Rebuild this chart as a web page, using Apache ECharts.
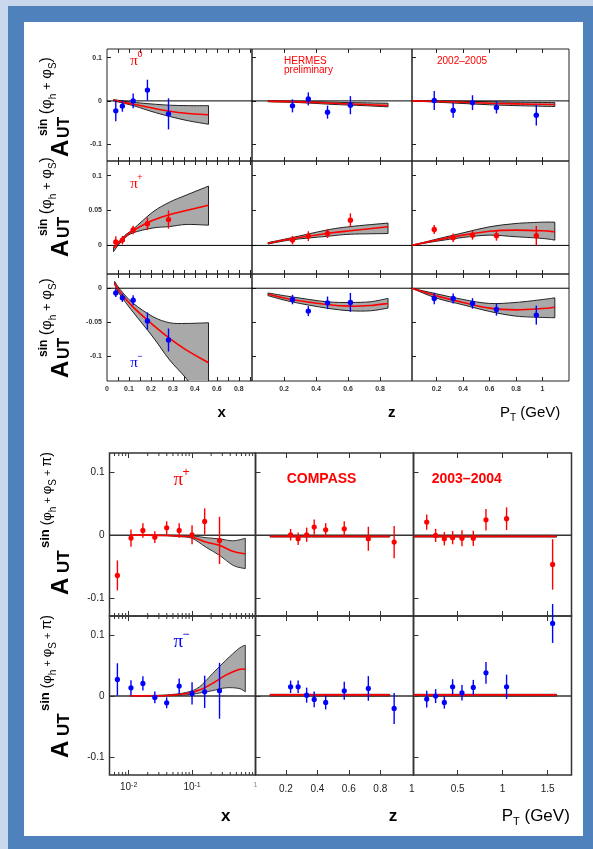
<!DOCTYPE html>
<html><head><meta charset="utf-8">
<script src="https://cdn.jsdelivr.net/npm/echarts@6/dist/echarts.min.js"></script>
<style>html,body{margin:0;padding:0;background:#c8d7ec}#c{width:593px;height:849px}</style>
</head><body><div id="c"></div>
<script>
// ================= HERMES 2002-2005 =================
const hX  = [0.04, 0.07, 0.119, 0.184, 0.28];
const hZ  = [0.253, 0.352, 0.472, 0.615];
const hPT = [0.182, 0.325, 0.471, 0.652, 0.953];
// pi0
const pi0X_y = [-0.023, -0.012, 0.0, 0.025, -0.030];
const pi0X_e = [0.024, 0.013, 0.017, 0.024, 0.036];
const pi0Z_y = [-0.0115, 0.0046, -0.026, -0.010];
const pi0Z_e = [0.015, 0.015, 0.015, 0.021];
const pi0P_y = [0.001, -0.022, -0.004, -0.015, -0.033];
const pi0P_e = [0.022, 0.017, 0.017, 0.014, 0.024];
// pi+
const pipX_y = [0.005, 0.0076, 0.022, 0.031, 0.037];
const pipX_e = [0.008, 0.006, 0.006, 0.009, 0.013];
const pipZ_y = [0.0076, 0.0133, 0.017, 0.036];
const pipZ_e = [0.006, 0.007, 0.0064, 0.010];
const pipP_y = [0.0229, 0.011, 0.0147, 0.0138, 0.0138];
const pipP_e = [0.0064, 0.006, 0.0065, 0.007, 0.014];
// pi-
const pimX_y = [-0.0069, -0.0142, -0.0176, -0.0485, -0.0765];
const pimX_e = [0.006, 0.006, 0.0074, 0.0128, 0.017];
const pimZ_y = [-0.0167, -0.0338, -0.0216, -0.021];
const pimZ_e = [0.007, 0.0074, 0.0093, 0.014];
const pimP_y = [-0.0152, -0.0152, -0.0225, -0.0314, -0.0397];
const pimP_e = [0.0086, 0.0074, 0.0078, 0.009, 0.014];
// model bands (HERMES)
const b_pi0X_x = [0.03, 0.08, 0.133, 0.2, 0.285, 0.37, 0.462];
const b_pi0X_m = [0.002, -0.004, -0.009, -0.016, -0.024, -0.029, -0.032];
const b_pi0X_h = [0.003, -0.001, -0.004, -0.007, -0.010, -0.011, -0.011];
const b_pi0X_l = [0.0, -0.006, -0.013, -0.024, -0.036, -0.046, -0.054];
const b_pi0Z_x = [0.1, 0.3, 0.5, 0.7, 0.85];
const b_pi0Z_m = [-0.001, -0.0023, -0.0054, -0.0085, -0.011];
const b_pi0Z_h = [0.0, -0.001, -0.003, -0.0045, -0.0054];
const b_pi0Z_l = [-0.002, -0.004, -0.008, -0.011, -0.0138];
const b_pi0P_x = [0.011, 0.2, 0.4, 0.6, 0.8, 1.093];
const b_pi0P_m = [0.0, -0.0015, -0.003, -0.0054, -0.0069, -0.0085];
const b_pi0P_h = [0.0, 0.0, -0.001, -0.002, -0.003, -0.004];
const b_pi0P_l = [0.0, -0.003, -0.006, -0.009, -0.011, -0.013];

const b_pipX_x = [0.03, 0.05, 0.08, 0.118, 0.209, 0.285, 0.36, 0.462];
const b_pipX_m = [-0.004, 0.003, 0.012, 0.021, 0.036, 0.044, 0.050, 0.0576];
const b_pipX_h = [-0.002, 0.004, 0.014, 0.023, 0.048, 0.062, 0.072, 0.085];
const b_pipX_l = [-0.009, 0.0, 0.010, 0.018, 0.025, 0.027, 0.030, 0.029];
const b_pipZ_x = [0.1, 0.247, 0.467, 0.615, 0.85];
const b_pipZ_m = [0.003, 0.0095, 0.017, 0.021, 0.0267];
const b_pipZ_h = [0.004, 0.011, 0.022, 0.027, 0.032];
const b_pipZ_l = [0.002, 0.008, 0.013, 0.016, 0.017];
const b_pipP_x = [0.011, 0.2, 0.4, 0.6, 0.8, 1.0, 1.093];
const b_pipP_m = [0.0, 0.0076, 0.0147, 0.0204, 0.0219, 0.0209, 0.0195];
const b_pipP_h = [0.0, 0.009, 0.018, 0.0267, 0.0314, 0.0333, 0.0333];
const b_pipP_l = [0.0, 0.006, 0.0114, 0.0147, 0.0124, 0.010, 0.0076];

const b_pimX_x = [0.035, 0.06, 0.118, 0.209, 0.285, 0.36, 0.462];
const b_pimX_m = [0.007, -0.006, -0.0275, -0.054, -0.074, -0.091, -0.110];
const b_pimX_h = [0.010, -0.002, -0.022, -0.042, -0.051, -0.052, -0.051];
const b_pimX_l = [0.005, -0.010, -0.035, -0.072, -0.106, -0.133, -0.175];
const b_pimZ_x = [0.1, 0.247, 0.467, 0.615, 0.74, 0.85];
const b_pimZ_m = [-0.009, -0.0167, -0.024, -0.0265, -0.0255, -0.0225];
const b_pimZ_h = [-0.007, -0.0127, -0.020, -0.021, -0.020, -0.015];
const b_pimZ_l = [-0.011, -0.020, -0.0294, -0.0333, -0.0333, -0.0294];
const b_pimP_x = [0.011, 0.2, 0.4, 0.6, 0.8, 1.0, 1.093];
const b_pimP_m = [0.0, -0.0113, -0.021, -0.0294, -0.032, -0.030, -0.028];
const b_pimP_h = [0.0, -0.0083, -0.0167, -0.0225, -0.021, -0.0167, -0.0142];
const b_pimP_l = [0.0, -0.0147, -0.0245, -0.0343, -0.0412, -0.0431, -0.0436];

// HERMES axes ticks / labels
const hxTicks = [0.05, 0.1, 0.15, 0.2, 0.25, 0.3, 0.35, 0.4, 0.45, 0.5, 0.55, 0.6, 0.65];
const hxLabelPos = [0, 0.1, 0.2, 0.3, 0.4, 0.5, 0.6];
const hxLabelTxt = ['0', '0.1', '0.2', '0.3', '0.4', '0.6', '0.8'];
const hzTicks = [0.2, 0.4, 0.6, 0.8];
const hzLabelTxt = ['0.2', '0.4', '0.6', '0.8'];
const hptTicks = [0.2, 0.4, 0.6, 0.8, 1];
const hptLabelTxt = ['0.2', '0.4', '0.6', '0.8', '1'];
const hy0Ticks = [-0.1, 0, 0.1], hy0Txt = ['-0.1', '0', '0.1'];
const hy1Ticks = [0, 0.05, 0.1], hy1Txt = ['0', '0.05', '0.1'];
const hy2Ticks = [-0.1, -0.05, 0], hy2Txt = ['-0.1', '-0.05', '0'];

// ================= COMPASS 2003-2004 =================
const cX  = [0.00666, 0.0109, 0.0168, 0.0259, 0.0398, 0.0627, 0.1, 0.158, 0.271];
const cZ  = [0.23, 0.278, 0.332, 0.38, 0.453, 0.571, 0.724, 0.888];
const cPT = [0.156, 0.255, 0.352, 0.444, 0.548, 0.674, 0.815, 1.044, 1.556];
const cpX_y = [-0.0638, -0.0047, 0.0074, -0.0032, 0.0116, 0.0074, 0.0006, 0.0217, -0.0084];
const cpX_e = [0.0237, 0.0137, 0.0116, 0.0092, 0.0103, 0.0116, 0.015, 0.0206, 0.0374];
const cpZ_y = [0.0006, -0.0057, 0.0006, 0.0127, 0.0085, 0.010, -0.0057, -0.011];
const cpZ_e = [0.0092, 0.0098, 0.0113, 0.012, 0.0105, 0.0119, 0.019, 0.0256];
const cpP_y = [0.0206, -0.0005, -0.0057, -0.004, -0.005, -0.005, 0.0243, 0.026, -0.0464];
const cpP_e = [0.0121, 0.0105, 0.0105, 0.0105, 0.0127, 0.012, 0.017, 0.018, 0.040];
const cmX_y = [0.0275, 0.0137, 0.0209, -0.0022, -0.011, 0.0165, 0.0044, 0.0071, 0.0088];
const cmX_e = [0.0266, 0.0124, 0.0118, 0.0096, 0.009, 0.0124, 0.0184, 0.0266, 0.046];
const cmZ_y = [0.0154, 0.0154, 0.0016, -0.0055, -0.0104, 0.0088, 0.0126, -0.0203];
const cmZ_e = [0.0102, 0.0102, 0.0124, 0.013, 0.0115, 0.015, 0.0203, 0.0255];
const cmP_y = [-0.0049, 0.0, -0.0104, 0.0154, 0.0055, 0.0143, 0.0384, 0.0154, 0.1197];
const cmP_e = [0.0137, 0.0115, 0.0102, 0.0124, 0.0129, 0.0124, 0.018, 0.020, 0.032];
// model bands (COMPASS)
const b_cpX_x = [0.0106, 0.02, 0.04, 0.063, 0.1, 0.165, 0.271, 0.447, 0.69];
const b_cpX_m = [0.0, 0.0, -0.0005, -0.0016, -0.003, -0.011, -0.016, -0.026, -0.0295];
const b_cpX_h = [0.0, 0.0, 0.0, -0.0005, -0.001, -0.004, -0.006, -0.009, -0.005];
const b_cpX_l = [0.0, -0.0005, -0.001, -0.0025, -0.005, -0.019, -0.032, -0.048, -0.053];
const b_cmX_x = [0.0106, 0.02, 0.04, 0.081, 0.13, 0.21, 0.34, 0.55, 0.69];
const b_cmX_m = [0.0005, 0.0005, 0.001, 0.0044, 0.0099, 0.021, 0.0346, 0.044, 0.044];
const b_cmX_h = [0.001, 0.001, 0.002, 0.006, 0.015, 0.037, 0.059, 0.0786, 0.084];
const b_cmX_l = [0.0, 0.0, 0.0005, 0.002, 0.005, 0.009, 0.0137, 0.0126, 0.007];
const b_cZ_x = [0.1, 0.86];
const b_cpZ_m = [-0.002, -0.002], b_cpZ_h = [-0.0005, -0.0005], b_cpZ_l = [-0.003, -0.003];
const b_cmZ_m = [0.002, 0.002],   b_cmZ_h = [0.003, 0.003],     b_cmZ_l = [0.0, 0.0];
const b_cP_x = [0.014, 1.6];
const b_cpP_m = [-0.002, -0.002], b_cpP_h = [-0.0005, -0.0005], b_cpP_l = [-0.003, -0.003];
const b_cmP_m = [0.002, 0.002],   b_cmP_h = [0.003, 0.003],     b_cmP_l = [0.0, 0.0];
// COMPASS axes ticks / labels
const cxMajor = [0.01, 0.1, 1];
const cxLabelTxt = ['10^-2', '10^-1', '1'];
const cxMinor = [0.006, 0.007, 0.008, 0.009, 0.02, 0.03, 0.04, 0.05, 0.06, 0.07, 0.08, 0.09,
                 0.2, 0.3, 0.4, 0.5, 0.6, 0.7, 0.8, 0.9];
const czTicks = [0.2, 0.4, 0.6, 0.8];
const czLabelPos = [0.2, 0.4, 0.6, 0.8, 1];
const czLabelTxt = ['0.2', '0.4', '0.6', '0.8', '1'];
const cptTicks = [0.5, 1, 1.5];
const cptLabelTxt = ['0.5', '1', '1.5'];
const cyTicks = [-0.1, 0, 0.1], cyTxt = ['-0.1', '0', '0.1'];

// ================= build =================
const RED = '#ff0000', BLUE = '#0000ff';
const FONT = '"Liberation Sans", Arial, Helvetica, sans-serif';
const SERIF = '"Liberation Serif", "Times New Roman", serif';

const AX = {
  hx:  {type: 'value', min: 0, max: 0.66, ticks: hxTicks, lpos: hxLabelPos, ltxt: hxLabelTxt},
  hz:  {type: 'value', min: 0, max: 1, ticks: hzTicks, lpos: hzTicks, ltxt: hzLabelTxt},
  hpt: {type: 'value', min: 0.014, max: 1.2, ticks: hptTicks, lpos: hptTicks, ltxt: hptLabelTxt},
  cx:  {type: 'log', min: 0.005, max: 1, ticks: cxMajor, lpos: cxMajor, ltxt: cxLabelTxt, minor: cxMinor},
  cz:  {type: 'value', min: 0.007, max: 1.011, ticks: czTicks, lpos: czLabelPos, ltxt: czLabelTxt},
  cpt: {type: 'value', min: 0.009, max: 1.766, ticks: cptTicks, lpos: cptTicks, ltxt: cptLabelTxt}
};
const HY = [
  {min: -0.139, max: 0.12, ticks: hy0Ticks, ltxt: hy0Txt},
  {min: -0.041, max: 0.121, ticks: hy1Ticks, ltxt: hy1Txt},
  {min: -0.137, max: 0.021, ticks: hy2Ticks, ltxt: hy2Txt}
];
const CY = [
  {min: -0.128, max: 0.130, ticks: cyTicks, ltxt: cyTxt},
  {min: -0.130, max: 0.132, ticks: cyTicks, ltxt: cyTxt}
];
const STH = {frame: '#222', fw: 1, tl: 4, fs: 7, fwt: 'bold', lc: '#333', xlm: 5, ylm: 5,
             zc: '#000', zw: 1, cw: 1.6, r: 2.7, ew: 1.4, bandFill: '#a9a9a9', bandStroke: '#222'};
const STC = {frame: '#333', fw: 1.5, tl: 5, fs: 10, fwt: 'normal', lc: '#222', xlm: 9, ylm: 5,
             zc: '#333', zw: 1.5, cw: 1.6, r: 2.6, ew: 1.4, bandFill: '#a9a9a9', bandStroke: '#333'};

function lookup(pos, txt, v) {
  let bi = 0, bd = Infinity;
  pos.forEach((p, i) => { const d = Math.abs(p - v); if (d < bd) { bd = d; bi = i; } });
  return txt[bi];
}
function fmtX(xa, v) {
  const t = lookup(xa.lpos, xa.ltxt, v);
  if (xa.type === 'log') {
    if (t.indexOf('^') >= 0) return t.replace(/\^(.+)$/, '{sup|$1}');
    return '{one|' + t + '}';
  }
  return t;
}
function crPath(pts, move) {
  let d = (move ? 'M' : 'L') + pts[0][0] + ' ' + pts[0][1];
  for (let i = 0; i < pts.length - 1; i++) {
    const p0 = pts[i - 1] || pts[i], p1 = pts[i], p2 = pts[i + 1], p3 = pts[i + 2] || pts[i + 1];
    const c1 = [p1[0] + (p2[0] - p0[0]) / 6, p1[1] + (p2[1] - p0[1]) / 6];
    const c2 = [p2[0] - (p3[0] - p1[0]) / 6, p2[1] - (p3[1] - p1[1]) / 6];
    d += ' C' + c1[0] + ' ' + c1[1] + ' ' + c2[0] + ' ' + c2[1] + ' ' + p2[0] + ' ' + p2[1];
  }
  return d;
}

const grids = [], xAxis = [], yAxis = [], series = [];
function addPanel(rect, xa, ya, st, showX, showY, pts, band) {
  const g = grids.length;
  grids.push({left: rect[0], top: rect[1], width: rect[2], height: rect[3], show: true,
    borderColor: st.frame, borderWidth: st.fw, backgroundColor: 'rgba(0,0,0,0)', containLabel: false, outerBoundsMode: 'none'});
  const base = () => {
    const o = {gridIndex: g, type: xa.type, min: xa.min, max: xa.max, splitLine: {show: false},
      axisLine: {show: false, onZero: false},
      axisTick: {show: true, inside: true, length: st.tl, customValues: xa.ticks.slice(), lineStyle: {color: st.frame, width: 1}},
      minorTick: {show: false}, minorSplitLine: {show: false}};
    if (xa.type === 'log') o.logBase = 10;
    return o;
  };
  const xb = base(); xb.position = 'bottom';
  xb.axisLabel = showX ? {show: true, customValues: xa.lpos.slice(), formatter: v => fmtX(xa, v),
    margin: xa.type === 'log' ? st.xlm - 2 : st.xlm, fontSize: st.fs, fontWeight: st.fwt, color: st.lc, fontFamily: FONT,
    rich: {sup: {fontSize: 7, color: st.lc, fontFamily: FONT, verticalAlign: 'top'},
           one: {fontSize: 7, color: '#888', fontFamily: FONT}}} : {show: false};
  const xt = base(); xt.position = 'top'; xt.axisLabel = {show: false};
  xAxis.push(xb, xt);
  yAxis.push({gridIndex: g, type: 'value', min: ya.min, max: ya.max, position: 'left', splitLine: {show: false},
    axisLine: {show: false, onZero: false},
    axisTick: {show: true, inside: true, length: st.tl, customValues: ya.ticks.slice(), lineStyle: {color: st.frame, width: 1}},
    axisLabel: showY ? {show: true, customValues: ya.ticks.slice(), formatter: v => lookup(ya.ticks, ya.ltxt, v),
      margin: st.ylm, fontSize: st.fs, fontWeight: st.fwt, color: st.lc, fontFamily: FONT} : {show: false}});
  const xi = 2 * g, yi = g;
  // band
  series.push({type: 'custom', xAxisIndex: xi, yAxisIndex: yi, clip: true, z: 2, silent: true,
    data: band.x.map((x, i) => [x, band.l[i], band.h[i]]),
    renderItem: (params, api) => {
      if (params.dataIndex !== 0) return null;
      const up = band.x.map((x, i) => api.coord([x, band.h[i]]));
      const lo = band.x.map((x, i) => api.coord([x, band.l[i]])).reverse();
      return {type: 'path', shape: {pathData: crPath(up, true) + ' ' + crPath(lo, false) + ' Z'},
        style: {fill: st.bandFill, stroke: st.bandStroke, lineWidth: 1}};
    }});
  // zero line
  series.push({type: 'line', xAxisIndex: xi, yAxisIndex: yi, data: [[xa.min, 0], [xa.max, 0]], symbol: 'none',
    lineStyle: {color: st.zc, width: st.zw}, silent: true, z: 3});
  // central curve
  series.push({type: 'custom', xAxisIndex: xi, yAxisIndex: yi, clip: true, z: 4, silent: true,
    data: band.x.map((x, i) => [x, band.m[i]]),
    renderItem: (params, api) => {
      if (params.dataIndex !== 0) return null;
      const p = band.x.map((x, i) => api.coord([x, band.m[i]]));
      return {type: 'path', shape: {pathData: crPath(p, true)}, style: {fill: 'none', stroke: RED, lineWidth: st.cw}};
    }});
  // minor ticks (log)
  if (xa.minor) {
    series.push({type: 'custom', xAxisIndex: xi, yAxisIndex: yi, z: 3, silent: true,
      data: xa.minor.map(v => [v, ya.min]),
      renderItem: (params, api) => {
        const v = api.value(0);
        const b = api.coord([v, ya.min]), t = api.coord([v, ya.max]);
        return {type: 'group', children: [
          {type: 'line', shape: {x1: b[0], y1: b[1], x2: b[0], y2: b[1] - 3}, style: {stroke: st.frame, lineWidth: 1}},
          {type: 'line', shape: {x1: t[0], y1: t[1], x2: t[0], y2: t[1] + 3}, style: {stroke: st.frame, lineWidth: 1}}]};
      }});
  }
  // points with error bars
  series.push({type: 'custom', xAxisIndex: xi, yAxisIndex: yi, z: 5, silent: true, clip: false,
    data: pts.x.map((x, i) => [x, pts.y[i], pts.e[i]]),
    renderItem: (params, api) => {
      const x = api.value(0), y = api.value(1), e = api.value(2);
      const p = api.coord([x, y]), lo = api.coord([x, y - e]), hi = api.coord([x, y + e]);
      return {type: 'group', children: [
        {type: 'line', shape: {x1: p[0], y1: lo[1], x2: p[0], y2: hi[1]}, style: {stroke: pts.c, lineWidth: st.ew}},
        {type: 'circle', shape: {cx: p[0], cy: p[1], r: st.r}, style: {fill: pts.c}}]};
    }});
}
const B = (x, m, l, h) => ({x, m, l, h});
const P = (x, y, e, c) => ({x, y, e, c});

// HERMES layout
const HC = [[107, 145], [252, 160], [412, 157]];
const HR = [[49, 112], [161, 113], [274, 107]];
const hr = (c, r) => [HC[c][0], HR[r][0], HC[c][1], HR[r][1]];
addPanel(hr(0,0), AX.hx,  HY[0], STH, false, true,  P(hX,  pi0X_y, pi0X_e, BLUE), B(b_pi0X_x, b_pi0X_m, b_pi0X_l, b_pi0X_h));
addPanel(hr(1,0), AX.hz,  HY[0], STH, false, false, P(hZ,  pi0Z_y, pi0Z_e, BLUE), B(b_pi0Z_x, b_pi0Z_m, b_pi0Z_l, b_pi0Z_h));
addPanel(hr(2,0), AX.hpt, HY[0], STH, false, false, P(hPT, pi0P_y, pi0P_e, BLUE), B(b_pi0P_x, b_pi0P_m, b_pi0P_l, b_pi0P_h));
addPanel(hr(0,1), AX.hx,  HY[1], STH, false, true,  P(hX,  pipX_y, pipX_e, RED),  B(b_pipX_x, b_pipX_m, b_pipX_l, b_pipX_h));
addPanel(hr(1,1), AX.hz,  HY[1], STH, false, false, P(hZ,  pipZ_y, pipZ_e, RED),  B(b_pipZ_x, b_pipZ_m, b_pipZ_l, b_pipZ_h));
addPanel(hr(2,1), AX.hpt, HY[1], STH, false, false, P(hPT, pipP_y, pipP_e, RED),  B(b_pipP_x, b_pipP_m, b_pipP_l, b_pipP_h));
addPanel(hr(0,2), AX.hx,  HY[2], STH, true,  true,  P(hX,  pimX_y, pimX_e, BLUE), B(b_pimX_x, b_pimX_m, b_pimX_l, b_pimX_h));
addPanel(hr(1,2), AX.hz,  HY[2], STH, true,  false, P(hZ,  pimZ_y, pimZ_e, BLUE), B(b_pimZ_x, b_pimZ_m, b_pimZ_l, b_pimZ_h));
addPanel(hr(2,2), AX.hpt, HY[2], STH, true,  false, P(hPT, pimP_y, pimP_e, BLUE), B(b_pimP_x, b_pimP_m, b_pimP_l, b_pimP_h));
// COMPASS layout
const CC = [[109.5, 146], [255.5, 158], [413.5, 158]];
const CR = [[453, 163], [616, 159]];
const cr = (c, r) => [CC[c][0], CR[r][0], CC[c][1], CR[r][1]];
addPanel(cr(0,0), AX.cx,  CY[0], STC, false, true,  P(cX,  cpX_y, cpX_e, RED),  B(b_cpX_x, b_cpX_m, b_cpX_l, b_cpX_h));
addPanel(cr(1,0), AX.cz,  CY[0], STC, false, false, P(cZ,  cpZ_y, cpZ_e, RED),  B(b_cZ_x, b_cpZ_m, b_cpZ_l, b_cpZ_h));
addPanel(cr(2,0), AX.cpt, CY[0], STC, false, false, P(cPT, cpP_y, cpP_e, RED),  B(b_cP_x, b_cpP_m, b_cpP_l, b_cpP_h));
addPanel(cr(0,1), AX.cx,  CY[1], STC, true,  true,  P(cX,  cmX_y, cmX_e, BLUE), B(b_cmX_x, b_cmX_m, b_cmX_l, b_cmX_h));
addPanel(cr(1,1), AX.cz,  CY[1], STC, true,  false, P(cZ,  cmZ_y, cmZ_e, BLUE), B(b_cZ_x, b_cmZ_m, b_cmZ_l, b_cmZ_h));
addPanel(cr(2,1), AX.cpt, CY[1], STC, true,  false, P(cPT, cmP_y, cmP_e, BLUE), B(b_cP_x, b_cmP_m, b_cmP_l, b_cmP_h));

// ================= text helpers =================
const mctx = document.createElement('canvas').getContext('2d');
function tw(t, s, w, f) { mctx.font = (w || 'normal') + ' ' + s + 'px ' + (f || FONT); return mctx.measureText(t).width; }
// sequence of text pieces along a baseline; b = baseline offset (positive = down in local frame)
function seq(x0, y0, rot, pieces) {
  let cx = 0; const children = [];
  for (const p of pieces) {
    if (p.at != null) cx = p.at;
    if (p.gap) cx += p.gap;
    children.push({type: 'text', x: cx, y: (p.b || 0) - 0.35 * p.s, z: 10,
      style: {text: p.t, fontSize: p.s, fontWeight: p.w || 'normal', fontFamily: p.f || FONT,
              fill: p.c || '#000', align: 'left', verticalAlign: 'middle'}});
    cx += tw(p.t, p.s, p.w, p.f);
  }
  return {type: 'group', x: x0, y: y0, rotation: rot, z: 10, children};
}
function ctext(x, y, t, s, o) {
  o = o || {};
  return {type: 'text', x, y, z: 10, style: {text: t, fontSize: s, fontWeight: o.w || 'normal', fontFamily: o.f || FONT,
    fill: o.c || '#000', align: o.a || 'center', verticalAlign: 'middle'}};
}
function hermesY(yb) {
  return seq(70, yb, Math.PI / 2, [
    {t: 'A', s: 24, w: 'bold', at: 0, b: 0},
    {t: 'UT', s: 16, w: 'bold', at: 19, b: 0},
    {t: 'sin', s: 12, w: 'bold', at: 21, b: -22},
    {t: ' (', s: 16, b: -18}, {t: 'φ', s: 15, b: -18}, {t: 'h', s: 10, b: -13},
    {t: ' + ', s: 13, b: -18}, {t: 'φ', s: 15, b: -18}, {t: 'S', s: 10, b: -13}, {t: ')', s: 16, b: -18}]);
}
function compassY(yb) {
  return seq(70, yb, Math.PI / 2, [
    {t: 'A', s: 24, w: 'bold', at: 0, b: 0},
    {t: 'UT', s: 17, w: 'bold', at: 22, b: 0},
    {t: 'sin', s: 13, w: 'bold', at: 47, b: -20},
    {t: ' (', s: 14, b: -18}, {t: 'φ', s: 13, b: -18}, {t: 'h', s: 10, b: -13},
    {t: ' + ', s: 11, b: -18}, {t: 'φ', s: 13, b: -18}, {t: 'S', s: 10, b: -13},
    {t: ' + ', s: 11, b: -18}, {t: 'π', s: 14, b: -18}, {t: ')', s: 14, b: -18}]);
}

const elements = [
  {type: 'rect', z: -10, shape: {x: 8, y: 6, width: 585, height: 843}, style: {fill: '#4f81bd'}},
  {type: 'rect', z: -9, shape: {x: 24, y: 22, width: 559, height: 814}, style: {fill: '#ffffff'}},
  hermesY(157), hermesY(257), hermesY(378),
  compassY(595), compassY(758),
  // HERMES annotations
  ctext(134, 61, 'π', 15, {f: SERIF, c: RED}), ctext(140, 55, '0', 9, {c: RED}),
  ctext(134, 184, 'π', 15, {f: SERIF, c: RED}), ctext(140, 178, '+', 9, {c: RED}),
  ctext(134, 363, 'π', 15, {f: SERIF, c: BLUE}), ctext(140, 357, '−', 9, {c: BLUE}),
  ctext(284, 61.7, 'HERMES', 10, {c: RED, a: 'left'}),
  ctext(284, 70.7, 'preliminary', 10, {c: RED, a: 'left'}),
  ctext(437, 61.7, '2002–2005', 10, {c: RED, a: 'left'}),
  // HERMES axis titles
  ctext(221.7, 413, 'x', 15, {w: 'bold'}),
  ctext(391.7, 413, 'z', 15, {w: 'bold'}),
  seq(500, 413, 0, [{t: 'P', s: 15, b: 5}, {t: 'T', s: 10, b: 9}, {t: ' (GeV)', s: 15, b: 5}]),
  // COMPASS annotations
  ctext(178.3, 480, 'π', 19, {f: SERIF, c: RED}), ctext(186, 473, '+', 12, {c: RED}),
  ctext(178.3, 642.5, 'π', 19, {f: SERIF, c: BLUE}), ctext(186, 635, '−', 12, {c: BLUE}),
  ctext(286.7, 479, 'COMPASS', 14, {w: 'bold', c: RED, a: 'left'}),
  ctext(431.7, 479, '2003–2004', 14, {w: 'bold', c: RED, a: 'left'}),
  // COMPASS axis titles
  ctext(225.7, 816.7, 'x', 17, {w: 'bold'}),
  ctext(393, 816.7, 'z', 17, {w: 'bold'}),
  seq(501.7, 816, 0, [{t: 'P', s: 17, b: 6}, {t: 'T', s: 11, b: 10}, {t: ' (GeV)', s: 17, b: 6}])
];

const chart = echarts.init(document.getElementById('c'), null, {renderer: 'canvas'});
chart.setOption({
  animation: false,
  backgroundColor: '#c8d7ec',
  grid: grids, xAxis, yAxis, series,
  graphic: {elements}
});
</script></body></html>
